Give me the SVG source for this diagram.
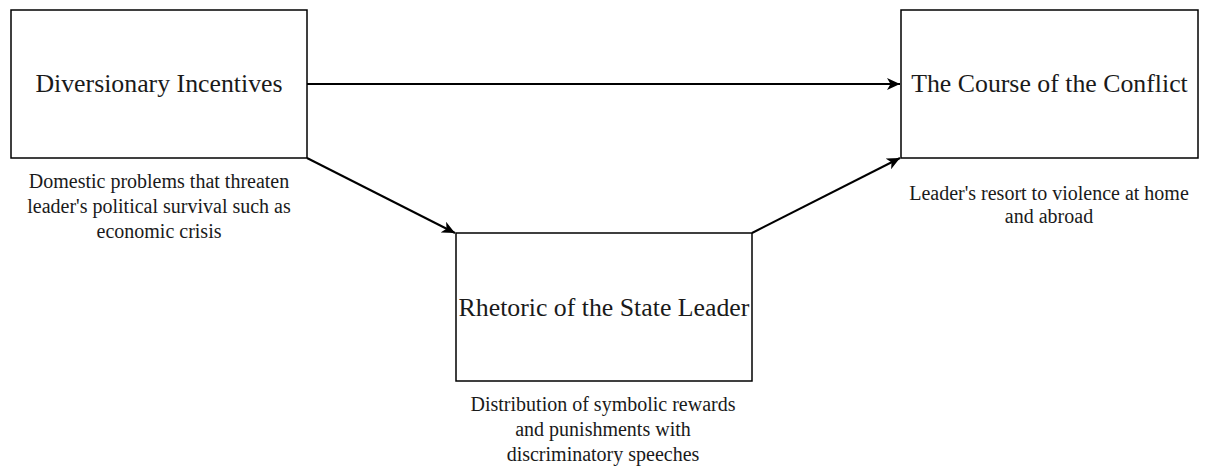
<svg xmlns="http://www.w3.org/2000/svg" width="1206" height="467" viewBox="0 0 1206 467">
<defs>
<style>
.box{fill:#fff;stroke:#000;stroke-width:1.5}
.main{font-family:"Liberation Serif","Times New Roman",serif;font-size:25.8px;fill:#1a1a1a;text-anchor:middle}
.sub{font-family:"Liberation Serif","Times New Roman",serif;font-size:20px;fill:#1a1a1a;text-anchor:middle}
.edge{fill:none;stroke:#000;stroke-width:2}
</style>
<marker id="arr" viewBox="0 0 13 12" refX="13" refY="6" markerWidth="13" markerHeight="12" markerUnits="userSpaceOnUse" orient="auto">
<path d="M0,0 L13,6 L0,12 L3.5,6 z" fill="#000"/>
</marker>
</defs>
<rect width="1206" height="467" fill="#fff"/>
<g id="connectors">
<line class="edge" x1="307" y1="84" x2="900" y2="84" marker-end="url(#arr)"/>
<line class="edge" x1="307" y1="158" x2="455" y2="233" marker-end="url(#arr)"/>
<line class="edge" x1="752" y1="233" x2="900" y2="158" marker-end="url(#arr)"/>
</g>
<g id="node-diversionary">
<rect class="box" x="11" y="10" width="296" height="148"/>
<text class="main" x="159" y="92">Diversionary Incentives</text>
<text class="sub" x="159" y="188">Domestic problems that threaten</text>
<text class="sub" x="159" y="213">leader's political survival such as</text>
<text class="sub" x="159" y="238">economic crisis</text>
</g>
<g id="node-rhetoric">
<rect class="box" x="456" y="233" width="296" height="148"/>
<text class="main" x="604" y="316">Rhetoric of the State Leader</text>
<text class="sub" x="603" y="411">Distribution of symbolic rewards</text>
<text class="sub" x="603" y="436">and punishments with</text>
<text class="sub" x="603" y="461">discriminatory speeches</text>
</g>
<g id="node-course">
<rect class="box" x="901" y="10" width="297" height="148"/>
<text class="main" x="1049.5" y="92">The Course of the Conflict</text>
<text class="sub" x="1049" y="200">Leader's resort to violence at home</text>
<text class="sub" x="1049" y="223">and abroad</text>
</g>
</svg>
